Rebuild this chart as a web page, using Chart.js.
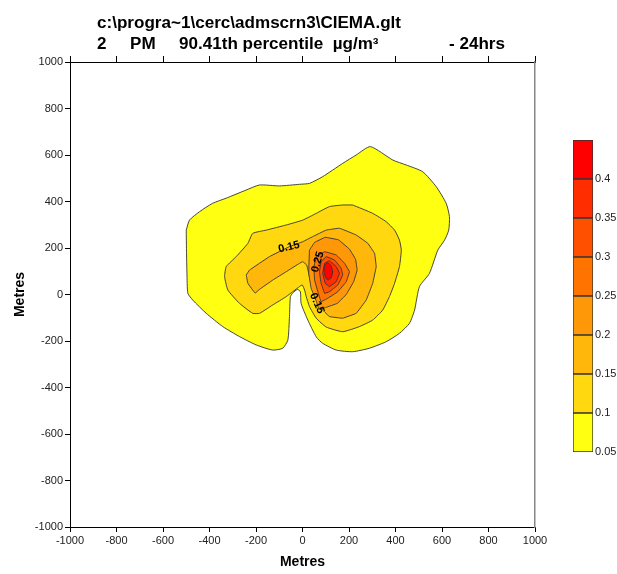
<!DOCTYPE html>
<html><head><meta charset="utf-8">
<script src="https://cdn.jsdelivr.net/npm/chart.js@4.4.1/dist/chart.umd.min.js"></script>
<style>
html,body{margin:0;padding:0;background:#fff;}
#wrap{position:relative;width:617px;height:574px;overflow:hidden;}
#main{position:absolute;left:0;top:0;}
#bar{position:absolute;left:573px;top:130px;}
</style></head><body>
<div id="wrap"><canvas id="main" width="617" height="574"></canvas><canvas id="bar" width="44" height="332"></canvas></div>
<script>
// ---- data ----
const titleLine1 = 'c:\\progra~1\\cerc\\admscrn3\\CIEMA.glt';
const titleLine2 = ['2', 'PM', '90.41th percentile  µg/m³', '- 24hrs'];
const axisTitle = 'Metres';
const axisTicks = [-1000, -800, -600, -400, -200, 0, 200, 400, 600, 800, 1000];
const levels = [0.05, 0.1, 0.15, 0.2, 0.25, 0.3, 0.35, 0.4];
const levelTop = 0.45;
const bandColors = ['#FFFF12', '#FFD80F', '#FFB70B', '#FF9808', '#FF7400', '#FF5000', '#FF2D00', '#FF0000'];

// contour polygons (x, y in metres), one per level
const contour005 = [[-500,277],[-499,191],[-497,92],[-493,5],[-472,-24],[-414,-81],[-343,-138],[-271,-181],[-199,-217],[-128,-239],[-85,-231],[-63,-196],[-56,-95],[-52,-9],[-43,5],[-22,22],[-9,12],[-6,-38],[23,-110],[59,-182],[87,-210],[145,-239],[216,-246],[288,-231],[360,-203],[417,-167],[460,-124],[482,-67],[503,34],[546,91],[582,191],[611,234],[629,277],[632,335],[618,392],[575,464],[517,528],[446,557],[389,578],[292,636],[231,600],[173,564],[87,507],[30,478],[-13,474],[-99,467],[-185,471],[-243,449],[-329,414],[-387,392],[-443,356],[-486,320]];
const contour010 = [[216,385],[302,349],[360,313],[396,277],[417,234],[425,191],[417,120],[396,48],[374,-9],[345,-67],[302,-110],[245,-138],[173,-160],[102,-140],[59,-102],[30,-52],[16,-9],[9,19],[-1,41],[-13,34],[-70,-9],[-128,-45],[-185,-81],[-214,-81],[-271,-38],[-321,19],[-335,77],[-328,120],[-285,163],[-235,220],[-214,263],[-156,277],[-70,299],[1,320],[59,349],[116,378],[173,385]];
const contour015 = [[-242,84],[-228,105],[-142,163],[-56,206],[1,227],[44,249],[102,277],[159,285],[231,256],[281,220],[310,177],[317,120],[302,48],[274,-24],[231,-81],[173,-102],[116,-95],[87,-67],[66,-24],[44,19],[30,77],[18,127],[1,141],[-13,134],[-70,98],[-128,62],[-185,22],[-204,6],[-235,48]];
const contour020 = [[30,191],[52,224],[98,246],[155,235],[202,195],[228,152],[235,105],[220,55],[188,0],[150,-38],[100,-56],[70,-63],[59,-28],[37,27],[27,90],[28,140]];
const contour025 = [[59,163],[95,184],[145,170],[181,134],[202,98],[188,55],[152,12],[109,-16],[80,-31],[66,12],[52,62],[49,120]];
const contour030 = [[80,141],[102,163],[138,148],[166,113],[173,84],[152,41],[116,12],[95,5],[80,48],[73,98]];
const contour035 = [[95,134],[116,145],[145,120],[159,91],[145,55],[116,34],[98,48],[87,91]];
const contour040 = [[95,127],[109,138],[123,123],[130,97],[123,71],[109,62],[98,75],[92,105]];
const contours = [contour005, contour010, contour015, contour020, contour025, contour030, contour035, contour040];

// contour labels: text and location (metres)
const contourLabelText = ['0.15', '0.25', '0.15'];
const contourLabelX = [-58, 66, 62];
const contourLabelY = [204, 140, -38];

// ---- styling ----
const FONT = 'Arial, "Liberation Sans", sans-serif';
const labelAngles = [-14, -74, 66];
const tensions = [0.2, 0.15, 0.05, 0.05, 0.05, 0.05, 0.05, 0.05];

const datasets = contours.map((pts, i) => ({
  data: pts.concat([pts[0]]).map(p => ({x: p[0], y: p[1]})),
  showLine: true,
  fill: 'shape',
  backgroundColor: bandColors[i],
  borderColor: '#333',
  borderWidth: 0.9,
  pointRadius: 0,
  tension: tensions[i],
  order: 20 - i
}));

const tickGrid = (len) => ({drawOnChartArea: false, drawTicks: true, tickLength: len, color: '#000', lineWidth: 1});
const setTicks = s => { s.ticks = axisTicks.map(v => ({value: v})); };
const plainLabel = v => String(v);

const overlayPlugin = {
  id: 'overlay',
  afterDatasetsDraw(chart) {
    const ctx = chart.ctx, xs = chart.scales.x, ys = chart.scales.y;
    ctx.save();
    ctx.font = 'bold 11px ' + FONT;
    ctx.fillStyle = '#000';
    ctx.textAlign = 'center';
    ctx.textBaseline = 'middle';
    contourLabelText.forEach((t, i) => {
      const px = xs.getPixelForValue(contourLabelX[i]);
      const py = ys.getPixelForValue(contourLabelY[i]);
      ctx.save();
      ctx.translate(px, py);
      ctx.rotate(labelAngles[i] * Math.PI / 180);
      ctx.fillText(t, 0, 0);
      ctx.restore();
    });
    ctx.restore();
  },
  afterDraw(chart) {
    const ctx = chart.ctx;
    ctx.save();
    ctx.font = 'bold 16px ' + FONT;
    ctx.fillStyle = '#000';
    ctx.textAlign = 'left';
    ctx.textBaseline = 'alphabetic';
    const w = ctx.measureText(titleLine1).width;
    const sx = 304 / w;
    const drawAt = (t, x, y) => { ctx.save(); ctx.translate(x, y); ctx.scale(sx, 1); ctx.fillText(t, 0, 0); ctx.restore(); };
    drawAt(titleLine1, 97, 28);
    const xs2 = [97, 130, 179, 449];
    titleLine2.forEach((t, i) => drawAt(t, xs2[i], 49));
    ctx.restore();
  }
};

new Chart(document.getElementById('main'), {
  type: 'scatter',
  data: {datasets},
  options: {
    responsive: false, animation: false, events: [],
    layout: {padding: 0},
    plugins: {legend: {display: false}, tooltip: {enabled: false}, filler: {propagate: false}},
    scales: {
      x: {type: 'linear', position: 'bottom', min: -1000, max: 1000,
        afterBuildTicks: setTicks, afterFit: s => { s.height = 47; },
        grid: tickGrid(5), border: {display: true, color: '#000', width: 1},
        ticks: {font: {family: FONT, size: 11}, color: '#222', padding: 2, maxRotation: 0, autoSkip: false, callback: plainLabel},
        title: {display: true, text: axisTitle, color: '#000', font: {family: FONT, size: 14, weight: 'bold'}, padding: {top: 0, bottom: 3}}},
      xTop: {type: 'linear', position: 'top', min: -1000, max: 1000,
        afterBuildTicks: setTicks, afterFit: s => { s.height = 62; },
        grid: tickGrid(6), border: {display: true, color: '#000', width: 1},
        ticks: {display: false}},
      y: {type: 'linear', position: 'left', min: -1000, max: 1000,
        afterBuildTicks: setTicks, afterFit: s => { s.width = 70; },
        grid: tickGrid(5), border: {display: true, color: '#000', width: 1},
        ticks: {font: {family: FONT, size: 11}, color: '#222', padding: 2, autoSkip: false, callback: plainLabel},
        title: {display: true, text: axisTitle, color: '#000', font: {family: FONT, size: 14, weight: 'bold'}, padding: {top: 12, bottom: 0}}},
      yRight: {type: 'linear', position: 'right', min: -1000, max: 1000,
        afterFit: s => { s.width = 82; },
        grid: {display: false}, border: {display: true, color: '#888', width: 1.5},
        ticks: {display: false}}
    }
  },
  plugins: [overlayPlugin]
});

// ---- colour bar ----
new Chart(document.getElementById('bar'), {
  type: 'bar',
  data: {
    labels: [''],
    datasets: levels.map((lo, i) => ({
      data: [[lo, i < levels.length - 1 ? levels[i + 1] : levelTop]],
      backgroundColor: bandColors[i], borderColor: '#333', borderWidth: 1, borderSkipped: false,
      grouped: false, barPercentage: 1, categoryPercentage: 1
    }))
  },
  options: {
    responsive: false, animation: false, events: [],
    layout: {padding: {top: 10, bottom: 10, left: 0, right: 0}},
    plugins: {legend: {display: false}, tooltip: {enabled: false}},
    scales: {
      x: {display: false},
      y: {position: 'right', min: levels[0], max: levelTop,
        afterBuildTicks: s => { s.ticks = levels.map(v => ({value: v})); },
        afterFit: s => { s.width = 24; },
        grid: {display: false, drawTicks: false}, border: {display: false},
        ticks: {padding: 2, font: {family: FONT, size: 11}, color: '#222', callback: plainLabel}}
    }
  }
});
</script>
</body></html>
